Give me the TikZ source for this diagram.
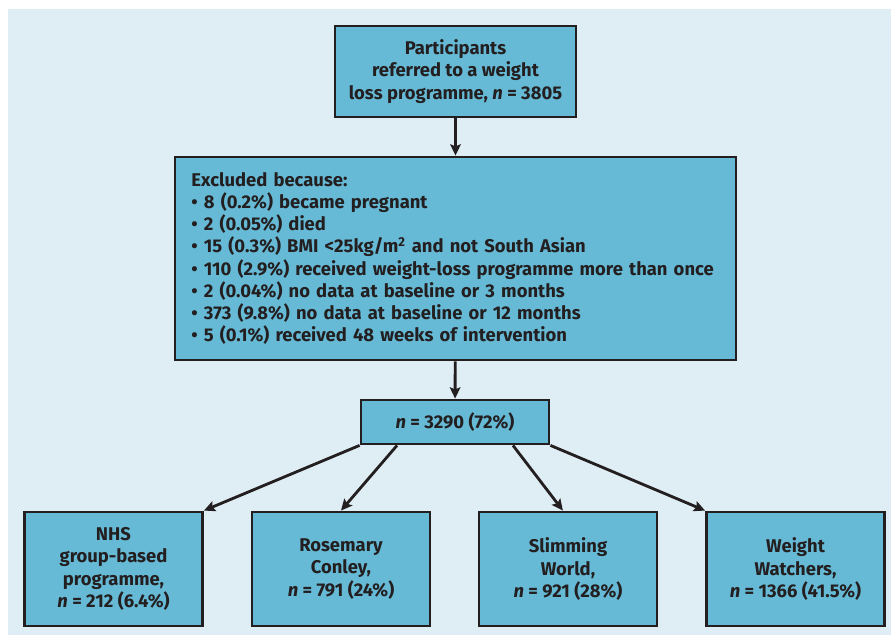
\documentclass[tikz,border=0pt]{standalone}
\usepackage{fontspec}
\setmainfont{Fira Sans}
\usetikzlibrary{arrows.meta,positioning}
\definecolor{panelblue}{HTML}{DFEDF4}
\definecolor{boxblue}{HTML}{66BAD6}
\definecolor{inkgrey}{HTML}{231F20}

\begin{document}
\begin{tikzpicture}[x=0.025cm,y=-0.025cm]
	\tikzset{box/.style={draw=inkgrey,fill=boxblue,line width=2pt,text=inkgrey,
		font=\bfseries\fontsize{13.1}{15.8}\selectfont,align=center,inner sep=0pt},
		>={Stealth[length=8pt,width=7.5pt,inset=1.5pt]}}
	\useasboundingbox (0,0) rectangle (891,635);
	\fill[panelblue] (8,9) rectangle (891,635);
	\node[box,minimum width=6.025cm,minimum height=2.275cm] (ref) at (455.5,71.5)
		{Participants\\referred to a weight\\loss programme, \textit{n} = 3805};
	\node[box,minimum width=14.025cm,minimum height=5.075cm,text width=13.2cm,align=left] (excl) at (455.5,258.5)
		{Excluded because:\\
		• 8 (0.2\%) became pregnant\\
		• 2 (0.05\%) died\\
		• 15 (0.3\%) BMI <25kg/m\textsuperscript{2} and not South Asian\\
		• 110 (2.9\%) received weight-loss programme more than once\\
		• 2 (0.04\%) no data at baseline or 3 months\\
		• 373 (9.8\%) no data at baseline or 12 months\\
		• 5 (0.1\%) received 48 weeks of intervention};
	\node[box,minimum width=4.7cm,minimum height=1.1cm] (incl) at (455,422) {\textit{n} = 3290 (72\%)};
	\tikzset{prog/.style={box,minimum width=4.45cm,minimum height=2.85cm}}
	\node[prog] (nhs) at (113.5,569) {NHS\\group-based\\programme,\\\textit{n} = 212 (6.4\%)};
	\node[prog] (rc) at (341,569) {Rosemary\\Conley,\\\textit{n} = 791 (24\%)};
	\node[prog] (sw) at (568,569) {Slimming\\World,\\\textit{n} = 921 (28\%)};
	\node[prog] (ww) at (795.5,569) {Weight\\Watchers,\\\textit{n} = 1366 (41.5\%)};
	\path[->,inkgrey,line width=2pt]
		(ref) edge (excl)
		(excl) edge (incl)
		(incl.south west) edge (nhs.north east)
		(incl.202) edge (rc.north)
		(incl.-22) edge (sw.95)
		(incl.south east) edge (ww.north west);
\end{tikzpicture}
\end{document}
